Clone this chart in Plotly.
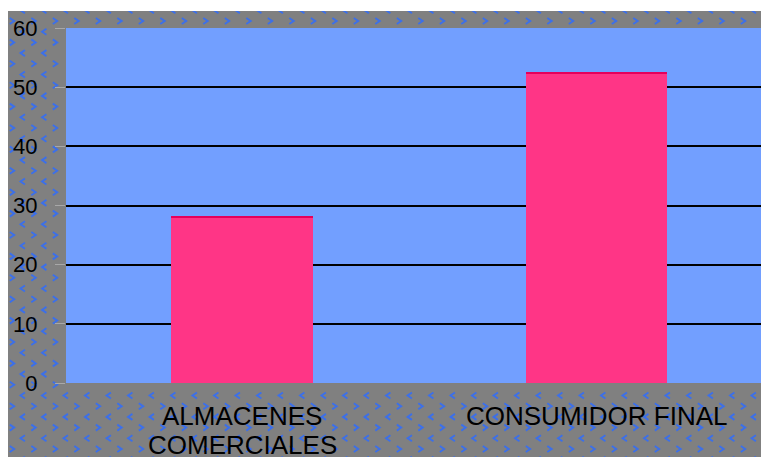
import numpy as np
import plotly.graph_objects as go

# Chart data
categories = ["ALMACENES COMERCIALES", "CONSUMIDOR FINAL"]
label_lines = [["ALMACENES", "COMERCIALES"], ["CONSUMIDOR FINAL"]]
values = [28.2, 52.6]
y_ticks = [0, 10, 20, 30, 40, 50, 60]

W, H = 761, 457
PL, PR, PT, PB = 66, 761, 28, 383   # plot-area edges in pixels
FL, FT = 8, 11                       # grey frame starts here

BAR_PINK = "#FF3586"
BAR_TOP = "#E6005C"
PLOT_BLUE = "#729FFF"
FRAME_GRAY = "#808080"
CHEVRON_BLUE = "#3B6FEA"
FONT = "Liberation Sans, Arial, sans-serif"


def fx(px):
    return px / W


def fy(py):
    return 1 - py / H


fig = go.Figure()

# Chevron texture on the grey frame, drawn first as short polylines on a
# pixel-unit subplot that covers the whole frame
cx, cy = [], []
dx, dy = 2.2, 3.0
step_x, step_y = 21.5, 10.7
for r, py in enumerate(np.arange(21 - 2 * step_y, H + 8, step_y)):
    right = r % 2 == 0
    x0 = 12 if right else 12 + step_x / 2
    for px in np.arange(x0 - step_x, W + 8, step_x):
        if (PL - 3 < px) and (PT - 4 < py < PB + 4):
            continue
        if right:
            cx += [px - dx, px + dx, px - dx, None]
        else:
            cx += [px + dx, px - dx, px + dx, None]
        cy += [py - dy, py, py + dy, None]
fig.add_trace(go.Scatter(
    x=cx, y=cy, mode="lines", xaxis="x", yaxis="y",
    line=dict(color=CHEVRON_BLUE, width=1.9),
    hoverinfo="skip", showlegend=False,
))

# Main bars
fig.add_trace(go.Bar(
    x=categories, y=values, width=0.4, xaxis="x2", yaxis="y2",
    marker=dict(color=BAR_PINK, line=dict(width=0)),
    hoverinfo="x+y", showlegend=False,
))
# Darker rim along the top edge of each bar
rim = 0.35
fig.add_trace(go.Bar(
    x=categories, y=[rim] * len(values), base=[v - rim for v in values], width=0.4,
    xaxis="x2", yaxis="y2",
    marker=dict(color=BAR_TOP, line=dict(width=0)),
    hoverinfo="skip", showlegend=False,
))

# Category labels below the axis
annotations = []
for cat, lines in zip(categories, label_lines):
    for i, line in enumerate(lines):
        annotations.append(dict(
            x=cat, xref="x2", y=fy(PB), yref="paper", text=line, showarrow=False,
            xanchor="center", yanchor="middle", yshift=-33 - 29 * i,
            font=dict(family=FONT, size=26, color="black"),
        ))

shapes = [
    # blue plot area
    dict(type="rect", xref="paper", yref="paper", layer="below",
         x0=fx(PL), x1=fx(PR), y0=fy(PB), y1=fy(PT),
         fillcolor=PLOT_BLUE, line=dict(width=0)),
    # white edge strips outside the grey frame
    dict(type="rect", xref="paper", yref="paper", layer="below",
         x0=0, x1=fx(FL), y0=0, y1=1,
         fillcolor="white", line=dict(width=0)),
    dict(type="rect", xref="paper", yref="paper", layer="below",
         x0=0, x1=1, y0=fy(FT), y1=1,
         fillcolor="white", line=dict(width=0)),
]

fig.update_layout(
    width=W, height=H,
    margin=dict(l=0, r=0, t=0, b=0, pad=0, autoexpand=False),
    paper_bgcolor=FRAME_GRAY, plot_bgcolor="rgba(0,0,0,0)",
    barmode="overlay", bargap=0,
    font=dict(family=FONT, color="black"),
    xaxis=dict(domain=[fx(FL), 1], anchor="y", range=[FL, W],
               visible=False, fixedrange=True),
    yaxis=dict(domain=[0, fy(FT)], anchor="x", range=[H, FT],
               visible=False, fixedrange=True),
    xaxis2=dict(domain=[fx(PL), fx(PR)], anchor="y2",
                type="category", range=[-0.4965, 1.464], showticklabels=False,
                showgrid=False, zeroline=False, showline=False, ticks=""),
    yaxis2=dict(domain=[fy(PB), fy(PT)], anchor="x2",
                range=[0, 60], tickvals=y_ticks, showgrid=True, gridcolor="black",
                gridwidth=1.6, zeroline=False, showline=False,
                ticks="outside", ticklen=10, tickcolor="#A8A8A8", tickwidth=1,
                ticklabelstandoff=13, tickfont=dict(size=22, family=FONT)),
    annotations=annotations,
    shapes=shapes,
)

fig.write_html("out.html")
